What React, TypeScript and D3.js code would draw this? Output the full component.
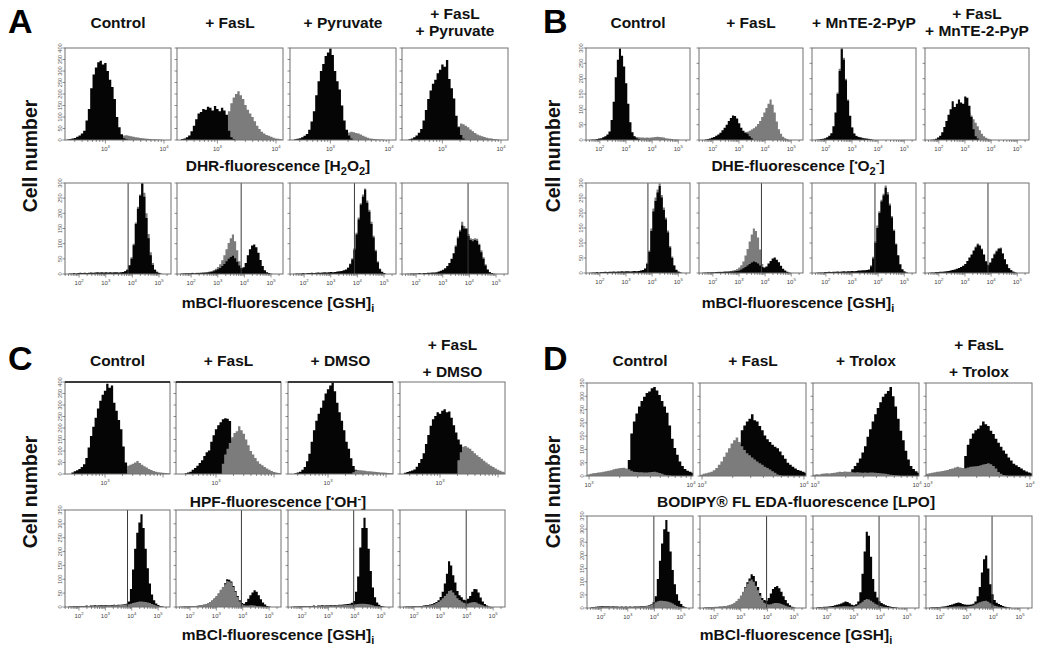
import React from "react";
import * as d3 from "d3";

type Series = { start: number; counts: number[] };

// ---------- Panel A : DHR (top) / mBCl (bottom) ----------
const A1_BLACK: Series = { start: 2.34, counts: [2,4,6,9,14,20,28,40,85,135,225,285,315,338,345,328,335,300,262,230,178,100,55,25,8,3] };
const A1_GRAY: Series = { start: 3.18, counts: [8,14,18,20,21,19,16,14,12,11,9,8,7,5,4,3,3,2,2,1] };
const A2_BLACK: Series = { start: 2.38, counts: [4,7,12,20,38,62,90,115,122,135,132,145,140,128,148,135,125,140,128,110,40,12,4] };
const A2_GRAY: Series = { start: 2.98, counts: [10,20,35,60,90,125,160,185,200,212,195,178,152,132,115,100,82,62,48,36,28,22,18,14,10,7,5,3] };
const A3_BLACK: Series = { start: 2.38, counts: [3,5,8,12,18,26,45,80,125,195,255,300,330,365,380,398,370,300,255,220,150,85,45,20,6] };
const A3_GRAY: Series = { start: 3.22, counts: [20,28,33,36,34,30,28,24,18,14,10,7,5,4,3,2,2,1] };
const A4_BLACK: Series = { start: 2.42, counts: [3,6,12,20,32,48,85,130,178,215,245,262,290,305,328,318,348,265,225,180,105,55,22,6] };
const A4_GRAY: Series = { start: 3.26, counts: [60,72,68,62,55,46,38,30,24,20,16,13,10,8,6,4,3,2] };

const A5_BLACK: Series = { start: 1.61, counts: [2,2,3,2,3,4,3,4,3,4,5,4,5,6,5,6,5,6,5,6,5,6,6,5,6,7,9,14,28,50,95,165,215,258,298,255,185,118,62,30,13,6,3,1] };
const A5_GRAY: Series = { start: 3.69, counts: [10,15,30,55,100,170,222,262,300,268,200,132,72,36,16,8,4] };
const A6_BLACK: Series = { start: 1.61, counts: [1,2,2,2,2,3,2,3,3,3,4,4,5,6,7,9,12,16,20,26,33,42,50,56,60,52,40,28,19,22,36,62,82,94,97,88,70,46,26,12,6,3,1] };
const A6_GRAY: Series = { start: 1.61, counts: [2,2,3,3,3,4,3,4,4,5,5,6,6,8,10,13,17,23,32,45,62,82,102,118,130,108,78,42,20,10,8,7,6,6,5,5,4,3,2] };
const A7_BLACK: Series = { start: 1.61, counts: [1,2,2,2,3,2,3,3,4,3,4,5,4,5,6,5,6,7,6,7,8,9,10,12,15,20,32,48,80,130,180,228,255,278,235,205,165,120,75,38,16,7,3] };
const A7_GRAY: Series = { start: 3.61, counts: [22,35,52,85,136,186,233,262,282,242,212,172,126,80,42,18,8,3] };
const A8_BLACK: Series = { start: 1.61, counts: [1,1,2,2,2,2,3,2,3,3,4,4,5,5,6,8,11,14,19,26,36,50,68,90,118,140,160,150,148,125,112,108,112,110,96,72,50,28,14,6,3,1] };
const A8_GRAY: Series = { start: 3.45, counts: [95,124,146,172,158,152,132,118,115,118,116,100,78,55,32,16,7,3] };

// ---------- Panel B : DHE (top) / mBCl (bottom) ----------
const B1_BLACK: Series = { start: 1.61, counts: [1,2,2,3,5,6,9,12,18,28,65,125,205,262,298,275,240,185,118,58,25,12,6,3] };
const B1_GRAY: Series = { start: 3.13, counts: [10,12,11,10,9,8,8,7,8,7,8,9,10,11,10,9,8,6,5,4,3,2,2,1] };
const B2_BLACK: Series = { start: 1.69, counts: [2,3,5,7,10,14,18,24,32,40,50,62,72,80,78,70,55,40,30,24,20,12,6] };
const B2_GRAY: Series = { start: 3.05, counts: [18,22,25,27,30,34,38,44,52,62,75,90,104,118,132,115,90,60,35,20,11,6,3] };
const B3_BLACK: Series = { start: 1.61, counts: [1,2,3,4,6,9,14,22,45,90,150,225,296,262,195,128,78,40,20,13,10,8,6,5,4,3,2] };
const B3_GRAY: Series = { start: 2.41, counts: [155,232,300,268,200,132,80,42,22,14,11,9,7,6,5,4,3,2] };
const B4_BLACK: Series = { start: 1.69, counts: [1,2,4,8,14,25,42,62,82,100,126,108,118,132,122,118,142,138,112,75,35,12,5] };
const B4_GRAY: Series = { start: 3.13, counts: [90,80,68,56,45,32,20,12,7,4,2] };

const B5_BLACK: Series = { start: 1.61, counts: [1,2,2,3,2,3,3,4,3,4,4,5,4,5,5,6,5,6,6,5,6,7,6,7,8,10,14,30,70,140,205,240,268,290,252,210,178,135,85,50,24,10,4,2] };
const B5_GRAY: Series = { start: 3.69, counts: [16,34,75,148,215,252,278,298,260,218,185,142,90,55,27,12,5,2] };
const B6_BLACK: Series = { start: 1.61, counts: [1,1,2,2,2,2,3,3,3,3,4,4,4,5,5,6,7,8,12,16,20,25,30,35,38,36,32,25,20,18,22,32,40,48,52,44,36,24,14,8,4,2] };
const B6_GRAY: Series = { start: 1.61, counts: [1,2,2,2,3,3,3,4,4,4,5,5,6,7,8,10,13,18,26,38,58,80,105,128,148,140,118,78,30,12,8,6,5,5,4,3,2] };
const B7_BLACK: Series = { start: 1.61, counts: [1,2,2,2,3,3,4,3,4,4,5,4,5,6,5,6,6,7,6,7,8,8,9,9,10,12,22,48,100,150,200,238,258,284,262,225,185,140,95,58,28,12,5,2] };
const B7_GRAY: Series = { start: 3.69, counts: [26,54,106,158,206,244,264,292,270,232,190,145,98,60,30,13,6,2] };
const B8_BLACK: Series = { start: 1.61, counts: [1,2,2,3,3,4,4,5,6,7,8,10,12,14,17,20,24,30,40,52,62,75,85,95,90,78,60,38,26,34,48,62,72,80,82,64,45,28,16,9,4,2] };
const B8_GRAY: Series = { start: 3.37, counts: [88,98,94,82,63,40,28,36,50,65,75,83,85,67,47,30,17,10,5,2] };

// ---------- Panel C : HPF (top) / mBCl (bottom) ----------
const C1_BLACK: Series = { start: 2.42, counts: [6,12,16,22,30,42,70,115,165,205,245,285,318,345,362,392,375,385,310,275,235,195,120,50,20,8] };
const C1_GRAY: Series = { start: 3.38, counts: [36,40,45,50,56,48,40,34,28,22,17,13,10,8,6,5,4,3,2] };
const C2_BLACK: Series = { start: 2.46, counts: [3,6,10,18,26,36,48,60,78,95,102,140,168,195,212,225,238,242,240,230,150,100,60,30] };
const C2_GRAY: Series = { start: 3.10, counts: [45,85,110,135,160,178,186,208,190,175,150,125,100,85,70,55,45,38,30,24,18,13,9,6,4,2] };
const C3_BLACK: Series = { start: 2.42, counts: [3,6,10,18,30,55,88,140,190,232,262,288,320,350,368,385,398,360,310,268,232,190,140,110,68,35,18,8] };
const C3_GRAY: Series = { start: 3.42, counts: [8,15,17,16,15,14,12,12,11,10,9,8,7,6,5,4,3,2] };
const C4_BLACK: Series = { start: 2.38, counts: [5,9,12,15,20,32,48,65,90,130,170,210,238,252,268,262,275,282,268,272,245,212,180,150,128,100,70,40] };
const C4_GRAY: Series = { start: 3.30, counts: [60,95,118,122,115,110,100,90,82,74,66,58,50,42,36,30,24,19,14,10,7] };

const C5_BLACK: Series = { start: 1.61, counts: [2,2,3,3,4,3,4,4,5,4,5,5,6,5,6,7,6,7,6,7,7,8,7,8,8,9,10,12,20,65,135,210,268,305,335,285,210,140,85,45,24,13,7,4,2] };
const C5_GRAY: Series = { start: 1.61, counts: [1,2,2,2,3,2,3,3,3,4,3,4,4,4,5,5,5,5,5,6,5,6,6,6,7,7,8,9,10,12,14,16,18,20,20,19,18,16,14,11,8,5,3,2] };
const C6_BLACK: Series = { start: 1.61, counts: [1,1,2,2,2,2,3,3,4,5,6,8,10,13,17,23,30,38,48,60,70,86,100,98,92,76,58,40,24,14,12,18,30,42,52,60,55,42,28,16,9,4,2] };
const C6_GRAY: Series = { start: 1.61, counts: [1,2,2,2,3,3,4,4,5,6,7,9,11,14,18,24,32,40,50,62,72,82,94,92,88,72,55,36,20,10,6,5,5,6,6,5,4,3,2] };
const C7_BLACK: Series = { start: 1.61, counts: [1,2,2,3,3,3,4,3,4,4,5,4,5,5,6,5,6,6,7,6,7,7,8,8,9,10,11,12,15,22,55,110,215,285,322,285,210,130,70,35,16,8,4,2] };
const C7_GRAY: Series = { start: 1.61, counts: [1,1,2,2,2,2,3,3,3,3,3,4,4,4,4,4,5,5,5,5,5,6,6,6,6,7,7,8,8,9,10,11,12,12,12,11,10,8,6,4,3,2] };
const C8_BLACK: Series = { start: 1.61, counts: [1,2,2,2,3,3,3,4,4,5,6,7,9,11,14,18,24,36,55,85,120,165,150,115,88,58,42,35,26,24,30,40,55,65,64,52,34,20,11,5,2] };
const C8_GRAY: Series = { start: 1.61, counts: [1,1,2,2,2,2,3,3,3,4,4,5,6,8,10,14,18,24,32,40,48,58,60,52,42,32,25,20,15,13,13,15,17,18,16,12,9,6,3,2] };

// ---------- Panel D : BODIPY (top) / mBCl (bottom) ----------
const D1_BLACK: Series = { start: 3.38, counts: [60,160,205,235,262,282,298,312,318,330,335,322,305,282,262,238,190,140,105,80,55,38,26,20,16,12] };
const D1_GRAY: Series = { start: 2.98, counts: [6,8,10,11,13,14,16,18,20,22,25,27,29,30,31,28,25,20,16,15,14,14,13,13,14,15,16,14,11,8,5,3,2] };
const D2_BLACK: Series = { start: 3.355, counts: [120,172,190,205,215,232,210,205,188,172,152,138,128,118,110,104,92,78,65,50,42,35,28,23,20,16,12] };
const D2_GRAY: Series = { start: 2.98, counts: [5,8,10,13,16,22,30,42,55,72,88,104,122,135,145,128,112,98,86,78,70,62,55,48,42,35,30,24,18,12,6,3] };
const D3_BLACK: Series = { start: 3.33, counts: [14,25,38,50,66,88,112,148,176,205,232,256,278,298,310,320,335,300,262,215,170,135,95,62,38,26,18,12] };
const D3_GRAY: Series = { start: 2.98, counts: [5,7,6,8,9,10,9,11,12,14,16,15,17,16,16,14,13,14,13,12,13,12,13,13,12,11,10,9,8,7,5,4,3,2] };
const D4_BLACK: Series = { start: 3.33, counts: [30,75,118,140,160,172,178,190,205,195,188,170,158,140,125,110,96,84,70,58,46,40,34,28,22,17,13,10] };
const D4_GRAY: Series = { start: 2.98, counts: [8,10,12,14,16,17,19,21,23,26,28,32,35,32,30,29,32,35,36,37,38,40,43,45,48,44,38,28,15,8,4,2] };

const D5_BLACK: Series = { start: 1.61, counts: [3,4,5,6,7,8,7,8,7,6,7,6,6,5,6,5,6,5,6,5,6,6,6,7,7,8,9,10,14,22,45,110,180,245,300,335,290,215,145,90,52,28,15,7,3] };
const D5_GRAY: Series = { start: 1.61, counts: [2,3,4,5,6,6,6,7,6,5,6,5,5,4,5,4,5,4,5,4,5,5,5,6,6,7,8,9,12,16,22,26,28,28,27,26,24,21,17,12,8,5,3,2] };
const D6_BLACK: Series = { start: 1.61, counts: [1,2,2,3,3,4,4,5,5,6,7,8,10,13,18,25,34,44,60,80,98,112,128,122,102,80,57,38,30,28,38,55,72,80,84,75,62,45,30,18,10,5,2] };
const D6_GRAY: Series = { start: 1.61, counts: [2,3,3,4,4,5,5,6,6,7,8,10,12,15,20,27,35,48,62,78,92,104,108,100,85,68,48,30,20,15,13,14,17,19,19,18,15,12,9,6,4,2] };
const D7_BLACK: Series = { start: 1.61, counts: [3,4,4,5,5,6,7,8,10,12,14,17,21,25,23,18,12,10,14,25,60,130,215,290,275,195,110,62,40,26,19,14,10,8,6,4,3,2] };
const D7_GRAY: Series = { start: 1.61, counts: [2,2,3,3,3,4,4,4,5,5,6,6,7,7,7,6,6,6,8,12,18,24,30,34,32,28,22,16,12,9,7,5,4,3,2] };
const D8_BLACK: Series = { start: 1.61, counts: [2,3,3,4,4,5,6,7,9,11,13,16,19,21,19,15,13,12,12,13,16,25,45,80,135,185,200,150,90,52,30,20,15,11,8,5,3,2] };
const D8_GRAY: Series = { start: 1.61, counts: [1,2,2,2,3,3,3,4,4,5,5,6,6,7,6,6,6,6,7,8,10,14,18,22,25,27,28,24,18,13,9,7,5,3,2] };

// gate positions (log10) of the mBCl histograms
const A_GATES = [3.84, 3.88, 3.89, 3.95];
const B_GATES = [3.84, 3.86, 3.88, 3.88];
const C_GATES = [3.84, 3.95, 3.96, 3.98];
const D_GATES = [3.98, 3.97, 3.95, 3.95];

// column titles
const A_TITLES = [["Control"], ["+ FasL"], ["+ Pyruvate"], ["+ FasL", "+ Pyruvate"]];
const B_TITLES = [["Control"], ["+ FasL"], ["+ MnTE-2-PyP"], ["+ FasL", "+ MnTE-2-PyP"]];
const C_TITLES = [["Control"], ["+ FasL"], ["+ DMSO"], ["+ FasL", "+ DMSO"]];
const D_TITLES = [["Control"], ["+ FasL"], ["+ Trolox"], ["+ FasL", "+ Trolox"]];

// axes (log10 domains, labelled decades, bin width)
const AX_DHR = { domain: [2.31, 4.12], labels: [3, 4], bin: 0.04 };
const AX_HPF = { domain: [2.31, 4.12], labels: [3], bin: 0.04 };
const AX_BOD = { domain: [2.98, 4.02], labels: [3, 4], bin: 0.025 };
const AX_LOG = { domain: [1.47, 5.45], labels: [2, 3, 4, 5], bin: 0.08 };

const GRAY = "#7c7c7c";
const FONT = "'Liberation Sans', Arial, Helvetica, sans-serif";

const PANELS = [
  {
    letter: "A", lx: 8, ly: 33, cellX: 37, cellY: 156, lefts: [65, 177, 290, 402], w: 106,
    grayOnTop: false, titles: A_TITLES, t1: 28, t2: [19, 36], xtc: 278,
    rows: [
      { y0: 48, h: 92, axis: AX_DHR, yMax: 400, data: [[A1_BLACK, A1_GRAY], [A2_BLACK, A2_GRAY], [A3_BLACK, A3_GRAY], [A4_BLACK, A4_GRAY]], gates: null, xt: "dhr", xty: 171, darkTop: [false, false, false, false] },
      { y0: 183, h: 91, axis: AX_LOG, yMax: 300, data: [[A5_BLACK, A5_GRAY], [A6_BLACK, A6_GRAY], [A7_BLACK, A7_GRAY], [A8_BLACK, A8_GRAY]], gates: A_GATES, xt: "mbcl", xty: 308, darkTop: [false, false, false, false] },
    ],
  },
  {
    letter: "B", lx: 543, ly: 33, cellX: 560, cellY: 156, lefts: [586, 699, 812, 925], w: 104,
    grayOnTop: false, titles: B_TITLES, t1: 28, t2: [19, 36], xtc: 798,
    rows: [
      { y0: 48, h: 92, axis: AX_LOG, yMax: 300, data: [[B1_BLACK, B1_GRAY], [B2_BLACK, B2_GRAY], [B3_BLACK, B3_GRAY], [B4_BLACK, B4_GRAY]], gates: null, xt: "dhe", xty: 171, darkTop: [false, false, false, false] },
      { y0: 183, h: 90, axis: AX_LOG, yMax: 300, data: [[B5_BLACK, B5_GRAY], [B6_BLACK, B6_GRAY], [B7_BLACK, B7_GRAY], [B8_BLACK, B8_GRAY]], gates: B_GATES, xt: "mbcl", xty: 308, darkTop: [false, false, false, false] },
    ],
  },
  {
    letter: "C", lx: 8, ly: 370, cellX: 37, cellY: 492, lefts: [65, 176, 288, 400], w: 105,
    grayOnTop: true, titles: C_TITLES, t1: 366, t2: [350, 377], xtc: 278,
    rows: [
      { y0: 382, h: 92, axis: AX_HPF, yMax: 400, data: [[C1_BLACK, C1_GRAY], [C2_BLACK, C2_GRAY], [C3_BLACK, C3_GRAY], [C4_BLACK, C4_GRAY]], gates: null, xt: "hpf", xty: 507, darkTop: [true, true, true, false] },
      { y0: 510, h: 97, axis: AX_LOG, yMax: 350, data: [[C5_BLACK, C5_GRAY], [C6_BLACK, C6_GRAY], [C7_BLACK, C7_GRAY], [C8_BLACK, C8_GRAY]], gates: C_GATES, xt: "mbcl", xty: 640, darkTop: [false, false, false, false] },
    ],
  },
  {
    letter: "D", lx: 543, ly: 370, cellX: 560, cellY: 492, lefts: [587, 700, 813, 926], w: 106,
    grayOnTop: true, titles: D_TITLES, t1: 366, t2: [350, 377], xtc: 796,
    rows: [
      { y0: 383, h: 93, axis: AX_BOD, yMax: 350, data: [[D1_BLACK, D1_GRAY], [D2_BLACK, D2_GRAY], [D3_BLACK, D3_GRAY], [D4_BLACK, D4_GRAY]], gates: null, xt: "bodipy", xty: 507, darkTop: [false, false, false, false] },
      { y0: 516, h: 92, axis: AX_LOG, yMax: 350, data: [[D5_BLACK, D5_GRAY], [D6_BLACK, D6_GRAY], [D7_BLACK, D7_GRAY], [D8_BLACK, D8_GRAY]], gates: D_GATES, xt: "mbcl", xty: 640, darkTop: [false, false, false, false] },
    ],
  },
];

function Hist(props: any) {
  const { id, x0, y0, w, h, axis, yMax, black, gray, grayOnTop, gate, showYLabels, darkTop } = props;
  const xs = d3.scaleLinear().domain(axis.domain).range([x0, x0 + w]);
  const ys = d3.scaleLinear().domain([0, yMax]).range([y0 + h, y0]);
  const area = d3
    .area<[number, number]>()
    .x((d) => xs(d[0]))
    .y0(ys(0))
    .y1((d) => ys(d[1]))
    .curve(d3.curveStepAfter);
  const pathOf = (s: Series) => {
    const pts: [number, number][] = s.counts.map((c, i) => [s.start + i * axis.bin, c]);
    pts.push([s.start + s.counts.length * axis.bin, s.counts[s.counts.length - 1]]);
    return area(pts) || "";
  };
  const layers: [Series, string][] = grayOnTop ? [[black, "#050505"], [gray, GRAY]] : [[gray, GRAY], [black, "#050505"]];
  const [d0, d1] = axis.domain;
  const xt: { v: number; major: boolean }[] = [];
  for (let n = Math.floor(d0); n <= Math.ceil(d1); n++) {
    for (let k = 1; k <= 9; k++) {
      const v = n + Math.log10(k);
      if (v >= d0 - 1e-9 && v <= d1 + 1e-9) xt.push({ v, major: k === 1 });
    }
  }
  const yt = d3.range(0, yMax + 1, 50);
  return (
    <g>
      <defs>
        <clipPath id={id}>
          <rect x={x0} y={y0} width={w} height={h} />
        </clipPath>
      </defs>
      <g clipPath={`url(#${id})`}>
        {layers.map(([s, c], i) => (
          <path key={i} d={pathOf(s)} fill={c} stroke="none" />
        ))}
      </g>
      {gate != null && (
        <line x1={xs(gate)} x2={xs(gate)} y1={y0} y2={y0 + h} stroke="#3a3a3a" strokeWidth={1} />
      )}
      <rect x={x0} y={y0} width={w} height={h} fill="none" stroke="#707070" strokeWidth={1} />
      {darkTop && <line x1={x0} x2={x0 + w} y1={y0} y2={y0} stroke="#111" strokeWidth={1.6} />}
      {xt.map((t, i) => (
        <line key={i} x1={xs(t.v)} x2={xs(t.v)} y1={y0 + h} y2={y0 + h + (t.major ? 3.5 : 2)} stroke="#444" strokeWidth={0.6} />
      ))}
      {axis.labels.map((n: number) => (
        <text key={n} x={xs(n)} y={y0 + h + 10.5} fontSize={6} textAnchor="middle" fill="#444" fontFamily={FONT}>
          10<tspan dy={-2.5} fontSize={4.2}>{n}</tspan>
        </text>
      ))}
      {yt.map((v) => (
        <line key={v} x1={x0 - 2.5} x2={x0} y1={ys(v)} y2={ys(v)} stroke="#444" strokeWidth={0.6} />
      ))}
      {showYLabels &&
        yt.map((v) => (
          <text key={v} transform={`translate(${x0 - 3.2},${ys(v)}) rotate(-90)`} fontSize={5.6} textAnchor="middle" fill="#555" fontFamily={FONT}>
            {v}
          </text>
        ))}
    </g>
  );
}

function XTitle({ kind, x, y }: { kind: string; x: number; y: number }) {
  const fs = 15.5;
  const sub = 11;
  const common = { x, y, textAnchor: "middle" as const, fontSize: fs, fontWeight: "bold" as const, fontFamily: FONT, fill: "#111" };
  if (kind === "dhr")
    return (
      <text {...common}>
        DHR-fluorescence [H<tspan dy={4} fontSize={sub}>2</tspan><tspan dy={-4}>O</tspan><tspan dy={4} fontSize={sub}>2</tspan><tspan dy={-4}>]</tspan>
      </text>
    );
  if (kind === "dhe")
    return (
      <text {...common}>
        DHE-fluorescence [<tspan dy={-5} fontSize={9}>•</tspan><tspan dy={5}>O</tspan><tspan dy={4} fontSize={sub}>2</tspan><tspan dy={-9} fontSize={sub}>-</tspan><tspan dy={5}>]</tspan>
      </text>
    );
  if (kind === "hpf")
    return (
      <text {...common}>
        HPF-fluorescence [<tspan dy={-5} fontSize={9}>•</tspan><tspan dy={5}>OH</tspan><tspan dy={-5} fontSize={sub}>-</tspan><tspan dy={5}>]</tspan>
      </text>
    );
  if (kind === "bodipy") return <text {...common}>BODIPY® FL EDA-fluorescence [LPO]</text>;
  return (
    <text {...common}>
      mBCl-fluorescence [GSH]<tspan dy={4} fontSize={sub}>i</tspan>
    </text>
  );
}

export default function App() {
  return (
    <svg width={1041} height={648} style={{ position: "absolute", left: 0, top: 0, background: "#fff" }} fontFamily={FONT}>
      <rect x={0} y={0} width={1041} height={648} fill="#fff" />
      {PANELS.map((p, pi) => (
        <g key={p.letter}>
          <text x={p.lx} y={p.ly} fontSize={34} fontWeight="bold" fill="#000">{p.letter}</text>
          <text transform={`translate(${p.cellX},${p.cellY}) rotate(-90)`} textAnchor="middle" fontSize={19.5} fontWeight="bold" fill="#111">
            Cell number
          </text>
          {p.titles.map((lines, ci) => {
            const cx = p.lefts[ci] + p.w / 2;
            const ysPos = lines.length === 1 ? [p.t1] : p.t2;
            return lines.map((ln, li) => (
              <text key={`${ci}-${li}`} x={cx} y={ysPos[li]} textAnchor="middle" fontSize={15.5} fontWeight="bold" fill="#111">
                {ln}
              </text>
            ));
          })}
          {p.rows.map((r, ri) => (
            <g key={ri}>
              {r.data.map(([bk, gy], ci) => (
                <Hist
                  key={ci}
                  id={`clip-${pi}-${ri}-${ci}`}
                  x0={p.lefts[ci]}
                  y0={r.y0}
                  w={p.w}
                  h={r.h}
                  axis={r.axis}
                  yMax={r.yMax}
                  black={bk}
                  gray={gy}
                  grayOnTop={p.grayOnTop}
                  gate={r.gates ? r.gates[ci] : null}
                  showYLabels={ci === 0}
                  darkTop={r.darkTop[ci]}
                />
              ))}
              <XTitle kind={r.xt} x={p.xtc} y={r.xty} />
            </g>
          ))}
        </g>
      ))}
    </svg>
  );
}
